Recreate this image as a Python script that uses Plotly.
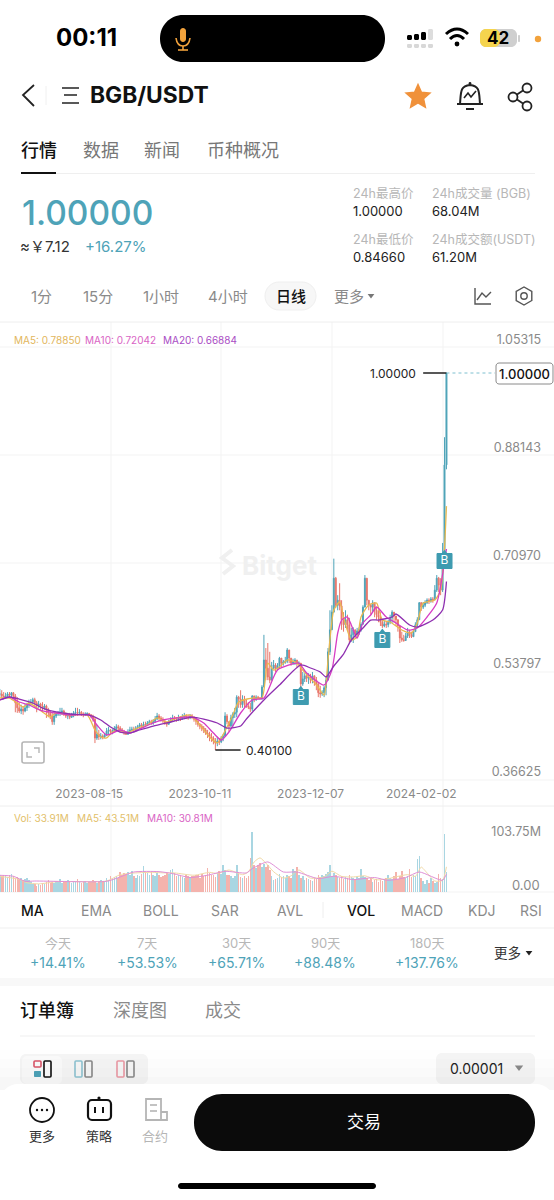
import math, re
import pandas as pd
import plotly.graph_objects as go

# ---------- data ----------
closes = [.490,.487,.484,.487,.490,.488,.492,.487,.476,.468,
 .463,.466,.463,.468,.473,.476,.477,.481,.476,.471,
 .474,.471,.468,.471,.465,.460,.455,.446,.455,.458,
 .460,.461,.463,.458,.455,.457,.453,.455,.460,.461,
 .460,.461,.458,.457,.458,.459,.457,.455,.450,.420,
 .426,.422,.423,.422,.425,.431,.433,.430,.431,.434,
 .438,.436,.433,.431,.428,.426,.430,.433,.434,.433,
 .436,.438,.441,.439,.442,.441,.444,.446,.444,.446,
 .450,.455,.452,.450,.447,.444,.442,.446,.449,.452,
 .450,.449,.452,.450,.453,.455,.453,.452,.455,.453,
 .450,.447,.442,.439,.436,.433,.428,.426,.422,.420,.415,.412,
 .415,.414,.420,.423,.455,.446,.439,.452,
 .458,.461,.485,.482,.473,.481,.476,.471,.469,.466,
 .487,.481,.485,.484,.482,.501,.544,.531,.517,.512,
 .531,.536,.530,.535,.547,.539,.541,.542,.560,.547,
 .539,.541,.544,.538,.539,.506,.514,.519,.515,.517,
 .512,.519,.512,.506,.492,.490,.492,.500,.512,.557,
 .592,.620,.674,.631,.639,.630,.608,.600,.608,.600,
 .576,.584,.592,.585,.590,.592,.601,.628,.674,.639,
 .631,.628,.635,.623,.616,.612,.604,.598,.601,.600,
 .604,.611,.620,.614,.608,.598,.579,.576,.575,.582,
 .589,.584,.581,.589,.600,.608,.635,.628,.631,.635,
 .639,.638,.641,.640,.655,.674,.663,.655,.703,.854,1.0]
highs = [.498,.496,.493,.492,.493,.493,.493,.493,.490,.485,
 .477,.473,.471,.474,.476,.481,.482,.484,.484,.479,
 .479,.476,.477,.474,.473,.468,.463,.461,.463,.461,
 .463,.468,.468,.465,.461,.460,.460,.460,.463,.468,
 .468,.466,.463,.461,.461,.461,.460,.458,.457,.453,
 .441,.433,.428,.426,.428,.436,.438,.434,.434,.439,
 .442,.441,.439,.436,.433,.431,.434,.438,.438,.438,
 .439,.441,.444,.444,.446,.446,.447,.449,.449,.450,
 .455,.460,.458,.455,.453,.450,.446,.449,.453,.457,
 .455,.453,.457,.455,.458,.460,.458,.457,.458,.458,
 .455,.452,.449,.444,.442,.439,.436,.433,.430,.428,.423,.420,
 .422,.420,.423,.426,.461,.458,.446,.457,
 .461,.468,.488,.487,.496,.488,.487,.481,.477,.476,
 .488,.487,.488,.487,.485,.504,.584,.563,.571,.557,
 .541,.544,.539,.539,.549,.546,.544,.549,.563,.560,
 .547,.546,.547,.544,.542,.536,.525,.523,.522,.523,
 .522,.525,.519,.517,.509,.503,.496,.503,.517,.563,
 .623,.631,.705,.676,.647,.666,.639,.620,.623,.616,
 .611,.595,.596,.592,.595,.596,.604,.631,.679,.674,
 .639,.633,.639,.635,.628,.623,.620,.608,.606,.606,
 .608,.616,.623,.620,.612,.604,.595,.589,.584,.587,
 .595,.592,.589,.592,.604,.612,.636,.636,.636,.639,
 .642,.642,.644,.644,.663,.679,.676,.674,.730,.898,1.0]
lows = [.485,.484,.482,.482,.484,.485,.485,.484,.461,.460,
 .460,.458,.457,.461,.463,.468,.471,.473,.471,.461,
 .468,.463,.461,.465,.452,.453,.450,.441,.441,.452,
 .455,.455,.457,.455,.452,.450,.450,.452,.453,.455,
 .455,.457,.455,.453,.455,.455,.455,.452,.446,.412,
 .417,.417,.418,.418,.420,.423,.426,.426,.426,.430,
 .431,.431,.428,.428,.425,.425,.425,.428,.430,.430,
 .431,.433,.434,.436,.438,.438,.439,.441,.441,.441,
 .444,.449,.447,.446,.444,.441,.438,.441,.444,.447,
 .447,.446,.447,.447,.449,.450,.450,.449,.450,.450,
 .446,.441,.438,.434,.431,.428,.425,.420,.415,.414,.410,.401,
 .407,.409,.412,.415,.423,.442,.430,.438,
 .438,.452,.453,.468,.468,.468,.468,.468,.466,.461,
 .463,.477,.479,.481,.481,.481,.501,.512,.512,.507,
 .525,.530,.525,.528,.531,.533,.535,.538,.539,.539,
 .535,.536,.536,.533,.535,.500,.503,.509,.509,.506,
 .507,.507,.503,.496,.485,.484,.487,.485,.488,.512,
 .552,.592,.620,.627,.623,.623,.592,.589,.595,.592,
 .571,.573,.571,.579,.582,.584,.589,.600,.628,.631,
 .623,.616,.620,.612,.608,.604,.598,.595,.596,.595,
 .596,.601,.603,.604,.598,.589,.571,.573,.573,.576,
 .579,.579,.579,.581,.589,.595,.608,.622,.625,.628,
 .633,.633,.635,.635,.639,.652,.652,.647,.652,.703,.847]
volumes_m = [29,27,30,28,26,29,31,27,24,26,
 22,24,20,23,25,21,17,13,14,11,
 13,12,15,14,17,20,16,18,15,19,
 17,22,16,19,18,20,17,16,19,18,
 23,18,15,17,19,16,18,17,20,19,
 16,18,21,17,19,24,20,27,23,26,
 28,25,35,30,33,31,34,30,36,28,
 25,29,27,31,45,34,32,30,35,29,
 28,32,30,26,27,29,33,31,38,40,
 32,27,29,28,26,25,29,27,26,28,
 27,29,30,25,31,28,30,41,33,29,
 30,26,33,36,31,47,38,30,29,27,
 25,28,46,31,26,24,27,25,28,58,
 103.75,46,42,47,50,44,48,43,46,38,
 28,20,22,24,31,26,28,24,30,27,
 25,40,36,43,30,24,27,21,25,22,
 20,19,24,22,29,26,30,28,31,34,
 46,28,32,30,26,24,27,23,26,24,
 29,26,24,22,26,24,40,28,26,24,
 21,25,18,20,22,17,21,19,22,24,
 30,24,22,27,34,23,27,37,26,24,
 28,40,26,29,28,57,63,24,19,14,
 21,15,24,19,16,18,31,24,22,100,33.91]

ma5_days = [0,5,9,12,15,22,26,29,36,45,49,52,55,58,62,65,71,76,81,86,91,98,103,108,112,114,117,120,123,130,135,138,141,144,148,153,156,163,167,169,172,175,177,181,184,186,190,194,197,201,207,212,215,218,224,227,229,230]
ma5_vals = [.4836,.4836,.4757,.4693,.4757,.4614,.4534,.4598,.4566,.4566,.4328,.4217,.4201,.4296,.4328,.4280,.4359,.4407,.4519,.4455,.4519,.4566,.4407,.4217,.4122,.4201,.4375,.4566,.4773,.4836,.4836,.5392,.5281,.5329,.5440,.5392,.5281,.5043,.4884,.5440,.6234,.6362,.6123,.5758,.5805,.6123,.6314,.6346,.6075,.6044,.5917,.5869,.6028,.6346,.6393,.6552,.7235,.78850]
ma10_days = [0,5,10,15,22,29,36,46,50,55,62,67,72,79,84,91,99,105,110,114,118,124,130,136,141,143,149,154,158,167,171,174,176,179,181,184,187,191,194,199,204,210,215,220,225,230]
ma10_vals = [.4805,.4852,.4773,.4725,.4630,.4598,.4566,.4566,.4407,.4249,.4328,.4280,.4344,.4439,.4487,.4519,.4534,.4439,.4280,.4169,.4296,.4598,.4805,.4836,.5170,.5281,.5361,.5392,.5233,.5043,.5281,.5869,.6075,.6123,.5996,.5790,.6028,.6155,.6282,.6123,.6028,.5917,.5948,.6123,.6346,.72042]
ma20_days = [0,5,10,17,22,29,36,46,52,57,62,67,72,79,88,99,105,112,117,124,127,136,144,155,160,165,168,172,177,181,187,191,195,202,204,211,215,223,228,230]
ma20_vals = [.4805,.4852,.4820,.4757,.4677,.4614,.4582,.4566,.4487,.4375,.4296,.4280,.4328,.4391,.4455,.4534,.4502,.4439,.4359,.4391,.4502,.4805,.5043,.5361,.5313,.5249,.5170,.5345,.5535,.5758,.5948,.6075,.6075,.6123,.6171,.5996,.5964,.6075,.6234,.66884]

vol_ma5_days = [0,10,14,20,30,55,62,70,78,85,90,100,108,112,118,125,128,131,134,137,141,146,150,154,160,167,171,176,182,188,194,200,205,210,214,217,220,224,228,230]
vol_ma5_vals = [27,22,16,14,18,19,30,33,34,33,33,29,34,32,38,30,35,52,59,50,35,24,28,38,24,26,36,27,26,28,21,23,27,30,27,43,33,19,20,43.51]
vol_ma10_days = [0,7,13,18,55,62,69,82,89,98,107,116,127,130,138,146,153,164,172,182,193,200,209,216,228,230]
vol_ma10_vals = [28.9,27.2,18.5,19,18.5,26,34.6,35.2,31.8,25,29,35.8,33,40.4,52,34.6,34.6,23.1,27.2,21.4,25,20.2,25,34.6,20.2,30.81]

buy_days = [155, 197, 229]
buy_prices = [.4852, .5758, .7013]

price_ticks = [1.05315, .88143, .70970, .53797, .36625]
volume_ticks = [103.75]
date_ticks = ["2023-08-15", "2023-10-11", "2023-12-07", "2024-02-02"]
last_price = 1.0
low_price = .401
low_day = 111

# ---------- layout constants ----------
W, H = 554, 1200
FONT = "Inter, 'Noto Sans CJK SC', sans-serif"
TEAL, RED = "#4ea3b8", "#e8766a"
PX_PER_DAY = 1.942
PX_PER_UNIT = 629.4
PX_PER_M = 60 / 103.75
start = pd.Timestamp("2023-07-01")
dates = pd.date_range(start, periods=len(closes))
opens = [closes[0]] + closes[:-1]
day = lambda d: start + pd.Timedelta(days=d)
dd = lambda ds: [day(d) for d in ds]


def X(v): return v / W
def Y(v): return 1 - v / H


def conv(d):
    out, idx = [], 0
    for tok in re.findall(r"[MLQCZ]|-?[\d.]+", d):
        if tok in "MLQCZ":
            out.append(tok)
            idx = 0
        else:
            v = float(tok)
            out.append(f"{X(v) if idx % 2 == 0 else Y(v):.5f}")
            idx += 1
    return " ".join(out)


shapes, anns = [], []


def path(d, fill=None, color=None, w=0, layer="above"):
    shapes.append(dict(type="path", path=conv(d), xref="paper", yref="paper", layer=layer,
                       fillcolor=fill or "rgba(0,0,0,0)",
                       line=dict(color=color or "rgba(0,0,0,0)", width=w)))


def rrect(x0, y0, x1, y1, r, fill=None, color=None, w=0, layer="above"):
    k = r * .45
    d = (f"M{x0+r} {y0} L{x1-r} {y0} C{x1-k} {y0} {x1} {y0+k} {x1} {y0+r} L{x1} {y1-r} "
         f"C{x1} {y1-k} {x1-k} {y1} {x1-r} {y1} L{x0+r} {y1} C{x0+k} {y1} {x0} {y1-k} {x0} {y1-r} "
         f"L{x0} {y0+r} C{x0} {y0+k} {x0+k} {y0} {x0+r} {y0} Z")
    path(d, fill, color, w, layer)


def circ(cx, cy, r, fill=None, color=None, w=0):
    shapes.append(dict(type="circle", xref="paper", yref="paper", x0=X(cx-r), x1=X(cx+r), y0=Y(cy+r), y1=Y(cy-r),
                       fillcolor=fill or "rgba(0,0,0,0)", line=dict(color=color or "rgba(0,0,0,0)", width=w)))


def line(x0, y0, x1, y1, color, w=1, layer="above"):
    shapes.append(dict(type="line", xref="paper", yref="paper", x0=X(x0), x1=X(x1), y0=Y(y0), y1=Y(y1),
                       layer=layer, line=dict(color=color, width=w)))


def text(x, y, s, size=14, color="#000", anchor="left", weight=400):
    anns.append(dict(xref="paper", yref="paper", x=X(x), y=Y(y), text=s, showarrow=False, xanchor=anchor,
                     yanchor="middle", borderpad=0, font=dict(size=size, color=color, family=FONT, weight=weight)))


def tri(cx, cy, s, color):
    path(f"M{cx-s} {cy-s*.6} L{cx+s} {cy-s*.6} L{cx} {cy+s*.7} Z", fill=color)


# ---------- grid ----------
GRID = "#f3f3f3"
for gy in (347, 455, 563, 672, 780):
    line(0, gy, W, gy, GRID, 1, "below")
for gx in (111, 221, 332, 443):
    line(gx, 322, gx, 892, GRID, 1, "below")
line(0, 322, W, 322, "#eeeeee", 1, "below")
line(0, 806, W, 806, "#eeeeee", 1, "below")
line(0, 892, W, 892, "#f3f3f3", 1, "below")

# watermark
text(241, 565, "Bitget", 26, "#f0f0f0", weight=700)
path("M232 550 L222 558 L233 566 L223 574", color="#f0f0f0", w=4, layer="below")

# status bar
text(86, 37, "00:11", 24, "#000", "center", 700)
rrect(160, 15, 385, 62, 23, fill="#000")
rrect(180, 28, 186, 42, 3, fill="#f2a23c")
path("M176 38 Q177 46 183 46 Q189 46 190 38", color="#f2a23c", w=1.6)
line(183, 46, 183, 50, "#f2a23c", 1.6)
line(178, 50, 188, 50, "#f2a23c", 1.6)
for bx, top, c in ((407, 35, "#000"), (414, 34, "#000"), (421, 32, "#000"), (428, 29, "#dddddd")):
    rrect(bx, top, bx + 5, 40, 1.5, fill=c)
for bx in (407, 414, 421, 428):
    rrect(bx, 44, bx + 5, 48, 1.2, fill="#d8d8d8")
path("M446 34 Q457 24 468 34", color="#000", w=3)
path("M450 39 Q457 32 464 39", color="#000", w=3)
circ(457, 44, 2.4, fill="#000")
rrect(480, 29, 517, 47, 6, fill="#cfcfcf")
rrect(480, 29, 500, 47, 6, fill="#f5d44e")
rrect(518, 35, 520, 42, 1, fill="#cfcfcf")
text(498, 38, "42", 17, "#000", "center", 700)
circ(538, 39, 3.2, fill="#f2a23c")

# nav bar
path("M34 85 L23 95 L34 106", color="#222", w=1.8)
line(46, 86, 46, 105, "#f0f0f0", 1)
line(62, 88, 79, 88, "#222", 1.5)
line(64, 95, 77, 95, "#222", 1.5)
line(62, 103, 79, 103, "#222", 1.5)
text(89, 95, "BGB/USDT", 22.8, "#111", weight=700)
star = []
for k in range(10):
    r = 12.5 if k % 2 == 0 else 5.8
    a = -math.pi / 2 + k * math.pi / 5
    star.append(f"{418 + r*math.cos(a):.2f} {97 + r*math.sin(a):.2f}")
path("M" + " L".join(star) + " Z", fill="#f0913a", color="#f0913a", w=1.5)
path("M460 104 C461 92 460 86 470 85 C480 86 479 92 480 104 Z", color="#222", w=2)
line(457, 104, 483, 104, "#222", 2)
line(466, 109, 474, 109, "#222", 2)
circ(470, 83.5, 1.4, fill="#222")
path("M464 98 L468 93 L471 97 L476 91", color="#222", w=1.6)
for cx, cy in ((527, 88), (513, 97), (527, 106)):
    circ(cx, cy, 4.5, color="#222", w=1.8)
line(517, 94.5, 523, 90.5, "#222", 1.8)
line(517, 99.5, 523, 103.5, "#222", 1.8)

# tabs
text(20, 150, "行情", 18, "#111", weight=500)
for tx, s in ((82, "数据"), (143, "新闻"), (206, "币种概况")):
    text(tx, 150, s, 18, "#777")
line(21, 173.5, 535, 173.5, "#efefef", 1)
line(21, 173, 56, 173, "#111", 2)

# price header
text(20.5, 213, "1.00000", 33.5, TEAL, weight=500)
text(19, 247, "≈￥7.12", 15, "#333")
text(84, 247, "+16.27%", 15, TEAL)
GREY = "#b7b7b7"
for tx, ty, s in ((352, 193, "24h最高价"), (431, 193, "24h成交量 (BGB)"), (352, 239, "24h最低价"), (431, 239, "24h成交额(USDT)")):
    text(tx, ty, s, 12.5, GREY)
for tx, ty, s in ((352, 211, "1.00000"), (431, 211, "68.04M"), (352, 257, "0.84660"), (431, 257, "61.20M")):
    text(tx, ty, s, 13, "#222")

# period row
for cx, s in ((41, "1分"), (98, "15分"), (161, "1小时"), (228, "4小时")):
    text(cx, 296, s, 15, "#8a8a8a", "center")
rrect(265, 282, 316, 310, 14, fill="#f7f7f7", color="#efefef", w=1)
text(291, 296, "日线", 15, "#111", "center", 500)
text(333, 296, "更多", 15, "#8a8a8a")
tri(371, 296, 3.4, "#777")
path("M475 288 L475 304 L491 304", color="#555", w=1.4)
path("M477 300 L482 293 L486 297 L491 292", color="#555", w=1.4)
hexa = [f"{524 + 9*math.cos(math.pi/6 + k*math.pi/3):.2f} {296 + 9*math.sin(math.pi/6 + k*math.pi/3):.2f}" for k in range(6)]
path("M" + " L".join(hexa) + " Z", color="#555", w=1.4)
circ(524, 296, 3.2, color="#555", w=1.4)

# chart legends
text(13, 340, "MA5: 0.78850", 10, "#e2b65c")
text(84, 340, "MA10: 0.72042", 10, "#d963c4")
text(162, 340, "MA20: 0.66884", 10, "#a94cc4")
text(13, 818, "Vol: 33.91M", 10, "#e2c069")
text(76, 818, "MA5: 43.51M", 10, "#e2c069")
text(146, 818, "MA10: 30.81M", 10, "#d963c4")
text(541, 885, "0.00", 13, "#8a8a8a", "right")

# expand icon
rrect(22, 742, 44, 763, 2, color="#b5b5b5", w=1.6)
path("M27 752 L27 757 L32 757", color="#b5b5b5", w=1.4)
path("M34 748 L39 748 L39 753", color="#b5b5b5", w=1.4)

# leaders and last price marker, anchored on the data
for x0, x1, yy in ((dates[-13], dates[-1], last_price), (dates[low_day], dates[low_day + 13], low_price)):
    shapes.append(dict(type="line", xref="x", yref="y", x0=x0, x1=x1, y0=yy, y1=yy, line=dict(color="#111", width=1.4)))
anns.append(dict(xref="x", yref="y", x=dates[-13], y=last_price, xshift=-5, text="1.00000", showarrow=False, xanchor="right",
                 font=dict(size=12, color="#222", family=FONT)))
anns.append(dict(xref="x", yref="y", x=dates[low_day + 13], y=low_price, xshift=3, text="0.40100", showarrow=False, xanchor="left",
                 font=dict(size=12, color="#222", family=FONT)))
shapes.append(dict(type="line", xref="x", yref="y", x0=dates[-1], x1=dates[-1] + pd.Timedelta(days=25), y0=last_price, y1=last_price,
                   line=dict(color="#7fc0d0", width=1, dash="3px,3px")))
rrect(496, 363, 553, 384, 3, fill="#fff", color="#8a8a8a", w=1)
text(524.5, 373.5, "1.00000", 13, "#111", "center", 500)

# indicators row
for cx, s, c in ((32, "MA", "#111"), (96, "EMA", "#8a8a8a"), (161, "BOLL", "#8a8a8a"), (225, "SAR", "#8a8a8a"), (290, "AVL", "#8a8a8a"),
                 (361, "VOL", "#111"), (422, "MACD", "#8a8a8a"), (482, "KDJ", "#8a8a8a"), (531, "RSI", "#8a8a8a")):
    text(cx, 910, s, 14, c, "center", 500 if c == "#111" else 400)
line(323, 902, 323, 918, "#eeeeee", 1)
line(0, 928, W, 928, "#efefef", 1)
for cx, a, b in ((58, "今天", "+14.41%"), (147, "7天", "+53.53%"), (236, "30天", "+65.71%"), (325, "90天", "+88.48%"), (427, "180天", "+137.76%")):
    text(cx, 943, a, 13, GREY, "center")
    text(cx, 962, b, 14, TEAL, "center")
text(507, 953, "更多", 13.5, "#333", "center")
tri(529, 953, 3.4, "#222")
rrect(0, 978, W, 986, 0.1, fill="#f8f8f8")

# order book
text(19, 1010, "订单簿", 18, "#111", weight=500)
text(112, 1010, "深度图", 18, "#8a8a8a")
text(204, 1010, "成交", 18, "#8a8a8a")
line(20, 1036, 535, 1036, "#efefef", 1)
rrect(20, 1054, 148, 1084, 6, fill="#f5f5f5")
rrect(22, 1056, 62, 1084, 5, fill="#fafafa")
rrect(34, 1061, 41, 1067, 1, color="#d9566a", w=1.6)
rrect(34, 1071, 41, 1077, 1, fill=TEAL)
rrect(44, 1061, 51, 1077, 1, color="#111", w=1.6)
rrect(75, 1061, 82, 1077, 1, color="#8fc3d1", w=1.6)
rrect(85, 1061, 92, 1077, 1, color="#8a8a8a", w=1.6)
rrect(117, 1061, 124, 1077, 1, color="#ea9aa5", w=1.6)
rrect(127, 1061, 134, 1077, 1, color="#8a8a8a", w=1.6)
rrect(436, 1053, 535, 1084, 6, fill="#f5f5f5")
text(476, 1068, "0.00001", 14, "#222", "center")
tri(519, 1068, 4.2, "#8a8a8a")

# bottom panel
for k, c in enumerate(("rgba(0,0,0,.004)", "rgba(0,0,0,.006)", "rgba(0,0,0,.008)", "rgba(0,0,0,.01)")):
    rrect(0, 1050 + k * 9, W, 1090, 0.1, fill=c)
rrect(0, 1084, W, 1240, 18, fill="#fff")
circ(42, 1110, 12, color="#111", w=1.8)
for dx in (-5, 0, 5):
    circ(42 + dx, 1110, 1.2, fill="#111")
rrect(88, 1100, 111, 1120, 4, color="#111", w=2.2)
circ(99, 1098, 1.6, fill="#111")
line(95, 1107, 95, 1113, "#111", 2)
line(103, 1107, 103, 1113, "#111", 2)
path("M146 1120 L146 1099 L161 1099 L161 1120 Z M161 1112 L167 1112 L167 1120 L146 1120", color="#b5b5b5", w=1.8)
line(150, 1105, 157, 1105, "#b5b5b5", 1.6)
line(150, 1111, 157, 1111, "#b5b5b5", 1.6)
text(42, 1136, "更多", 13, "#333", "center")
text(99, 1136, "策略", 13, "#333", "center")
text(155, 1136, "合约", 13, "#b5b5b5", "center")
rrect(194, 1094, 535, 1151, 28, fill="#0b0b0b")
text(364, 1122, "交易", 17, "#fff", "center")
rrect(178, 1183, 376, 1189, 3, fill="#000")

# ---------- traces ----------
line_kw = dict(mode="lines", hoverinfo="skip", showlegend=False)
fig = go.Figure()
fig.add_trace(go.Candlestick(x=dates, open=opens, high=highs, low=lows, close=closes, whiskerwidth=0,
                             increasing=dict(line=dict(color=TEAL, width=1), fillcolor=TEAL),
                             decreasing=dict(line=dict(color=RED, width=1), fillcolor=RED),
                             hoverinfo="skip", showlegend=False))
fig.add_trace(go.Scatter(x=dd(ma5_days), y=ma5_vals, line=dict(color="#e8b84f", width=1.3, shape="spline", smoothing=.6), **line_kw))
fig.add_trace(go.Scatter(x=dd(ma10_days), y=ma10_vals, line=dict(color="#d63cc4", width=1.3, shape="spline", smoothing=.6), **line_kw))
fig.add_trace(go.Scatter(x=dd(ma20_days), y=ma20_vals, line=dict(color="#8e2fb0", width=1.3, shape="spline", smoothing=.6), **line_kw))
fig.add_trace(go.Scatter(x=dd(buy_days), y=[p + .0125 for p in buy_prices], mode="markers", hoverinfo="skip", showlegend=False,
                         marker=dict(symbol="triangle-up", size=7, color="#3e9bb0")))
fig.add_trace(go.Scatter(x=dd(buy_days), y=buy_prices, mode="markers+text", text=["B"] * len(buy_days), textposition="middle center",
                         textfont=dict(size=12, color="#fff", family=FONT), hoverinfo="skip", showlegend=False,
                         marker=dict(symbol="square", size=15, color="#3e9bb0", line=dict(color="#3e9bb0", width=1))))
bar_colors = ["#a9d6e2" if c >= o else "#f4b3ad" for c, o in zip(closes, opens)]
fig.add_trace(go.Bar(x=dates, y=[v * 1e6 for v in volumes_m], marker=dict(color=bar_colors, line=dict(width=0)),
                     width=.8 * 86400000, xaxis="x2", yaxis="y2", hoverinfo="skip", showlegend=False))
fig.add_trace(go.Scatter(x=dd(vol_ma5_days), y=[v * 1e6 for v in vol_ma5_vals], xaxis="x2", yaxis="y2",
                         line=dict(color="#f1d9a6", width=1, shape="spline", smoothing=.6), **line_kw))
fig.add_trace(go.Scatter(x=dd(vol_ma10_days), y=[v * 1e6 for v in vol_ma10_vals], xaxis="x2", yaxis="y2",
                         line=dict(color="#e08fd6", width=1, shape="spline", smoothing=.6), **line_kw))

x_range = [start + pd.Timedelta(days=.2 / PX_PER_DAY), start + pd.Timedelta(days=(W + .2) / PX_PER_DAY)]
price_at = lambda p: last_price - (p - 373) / PX_PER_UNIT
tick_font = dict(size=12.5, color="#8a8a8a", family=FONT)

fig.update_layout(
    width=W, height=H, margin=dict(l=0, r=0, t=0, b=0), paper_bgcolor="#fff", plot_bgcolor="rgba(0,0,0,0)",
    showlegend=False, shapes=shapes, annotations=anns, bargap=0, dragmode=False,
    font=dict(family=FONT),
    xaxis=dict(domain=[0, 1], range=x_range, type="date", anchor="y", rangeslider=dict(visible=False), showgrid=False, zeroline=False,
               showline=False, ticks="", tickvals=date_ticks, ticktext=date_ticks, ticklabelposition="inside", ticklabelstandoff=3,
               ticklabelshift=2, tickfont=dict(size=12, color="#8a8a8a", family=FONT), fixedrange=True),
    yaxis=dict(domain=[Y(806), Y(322)], range=[price_at(806), price_at(322)], anchor="x", side="right", showgrid=False, zeroline=False,
               showline=False, ticks="", tickvals=price_ticks, tickformat=".5f", ticklabelposition="inside", ticklabelstandoff=10,
               tickfont=tick_font, fixedrange=True),
    xaxis2=dict(domain=[0, 1], range=x_range, type="date", anchor="y2", visible=False, fixedrange=True),
    yaxis2=dict(domain=[Y(892), Y(806)], range=[0, 86 / PX_PER_M * 1e6], anchor="x2", side="right", showgrid=False, zeroline=False,
                showline=False, ticks="", tickvals=[v * 1e6 for v in volume_ticks], ticktext=[f"{v:.2f}M" for v in volume_ticks],
                ticklabelposition="inside", ticklabelstandoff=10, tickfont=tick_font, fixedrange=True),
)

fig.write_html("out.html", config={"displayModeBar": False, "staticPlot": True},
               post_script="document.body.style.margin='0';document.body.style.overflow='hidden';")
